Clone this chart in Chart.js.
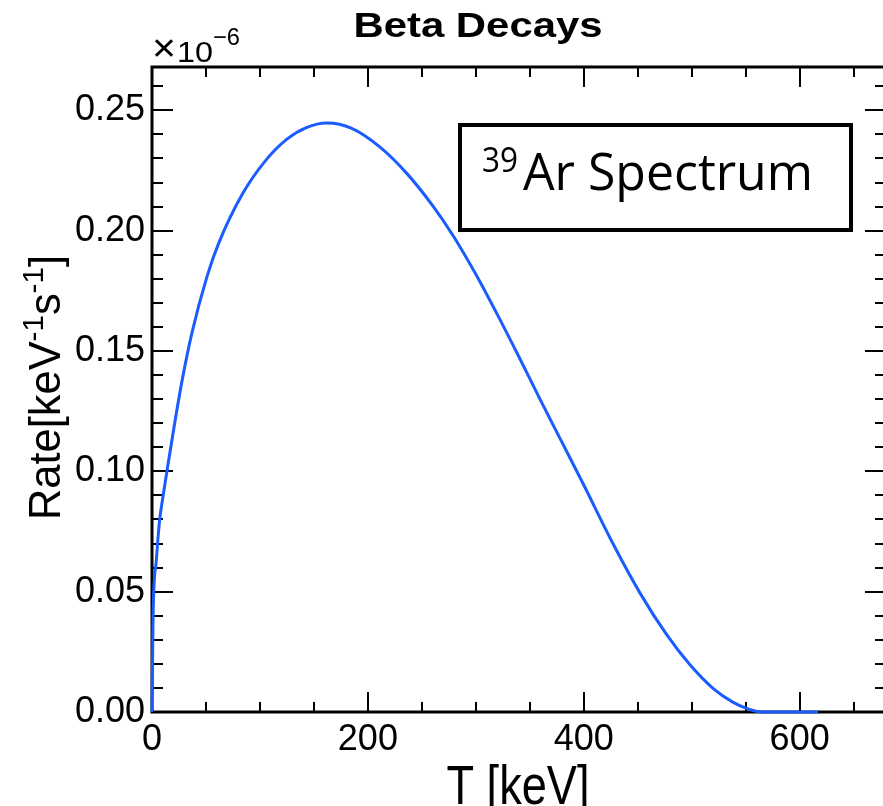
<!DOCTYPE html>
<html>
<head>
<meta charset="utf-8">
<script src="https://cdn.jsdelivr.net/npm/chart.js@4.4.1/dist/chart.umd.min.js"></script>
<style>
  html, body { margin: 0; padding: 0; background: #fff; overflow: hidden; }
  canvas { display: block; }
</style>
</head>
<body>
<canvas id="betaChart" width="900" height="806"></canvas>
<script>
// 39Ar beta spectrum (rate in units of 1e-6 keV^-1 s^-1)
const energyKeV = [0, 1, 4, 7, 10, 14, 21, 28, 37, 51, 62, 84, 105, 125, 143, 162, 185, 211, 236, 260, 279, 300, 320, 340, 360, 380, 400, 427, 452, 477, 498, 520, 538, 552, 565, 617]
const rate      = [0, 0.040, 0.063, 0.0795, 0.089, 0.1005, 0.1200, 0.1380, 0.1575, 0.181, 0.195, 0.2154, 0.229, 0.238, 0.2428, 0.2447, 0.2425, 0.2348, 0.2238, 0.2104, 0.1979, 0.1819, 0.1651, 0.1475, 0.1295, 0.1119, 0.0943, 0.0700, 0.0495, 0.0320, 0.0198, 0.0097, 0.0041, 0.0013, 0, 0]

const xMajorTicks = [0, 200, 400, 600]
const yMajorTicks = [0, 0.05, 0.10, 0.15, 0.20, 0.25]

const X_MAX = 680
const Y_MAX = 0.268

// draws text squeezed/stretched to a given width
function fitText(ctx, text, x, y, width, font, align) {
    ctx.save()
    ctx.font = font
    const w = ctx.measureText(text).width
    const sx = width / w
    ctx.translate(x, y)
    ctx.scale(sx, 1)
    ctx.textAlign = 'left'
    ctx.textBaseline = 'alphabetic'
    if (align === 'center') ctx.fillText(text, -w / 2, 0)
    else ctx.fillText(text, 0, 0)
    ctx.restore()
}

const rootFrame = {
    id: 'rootFrame',
    beforeDatasetsDraw(chart) {
        const ctx = chart.ctx
        const a = chart.chartArea
        const xs = chart.scales.x
        const ys = chart.scales.y
        ctx.save()
        ctx.strokeStyle = '#000'
        ctx.lineWidth = 2
        ctx.beginPath()
        for (let v = 0; v <= X_MAX; v += 50) {
            const px = Math.round(xs.getPixelForValue(v))
            const len = v % 200 === 0 ? 20 : 10
            ctx.moveTo(px, a.bottom); ctx.lineTo(px, a.bottom - len)
            ctx.moveTo(px, a.top); ctx.lineTo(px, a.top + len)
        }
        for (let i = 0; i * 0.01 <= Y_MAX; i++) {
            const py = Math.round(ys.getPixelForValue(i * 0.01))
            const len = i % 5 === 0 ? 21 : 11
            ctx.moveTo(a.left, py); ctx.lineTo(a.left + len, py)
            ctx.moveTo(a.right, py); ctx.lineTo(a.right - len, py)
        }
        ctx.stroke()
        ctx.lineWidth = 3
        ctx.strokeRect(a.left, a.top, a.right - a.left, a.bottom - a.top)
        ctx.restore()
    },
    afterDraw(chart) {
        const ctx = chart.ctx
        ctx.save()
        ctx.fillStyle = '#000'

        // title
        fitText(ctx, 'Beta Decays', 478, 37, 249, 'bold 35px "Liberation Sans"', 'center')

        // exponent
        fitText(ctx, '\u00d7', 152, 61, 24, '38px "Liberation Sans"')
        fitText(ctx, '10', 177, 62, 36, '29px "Liberation Sans"')
        fitText(ctx, '\u22126', 213, 45, 27, '24px "Liberation Sans"')

        // x title
        fitText(ctx, 'T [keV]', 518, 804, 143, '56px "Liberation Sans"', 'center')

        // y title, rotated
        ctx.save()
        ctx.translate(60, 520)
        ctx.rotate(-Math.PI / 2)
        const parts = [
            ['Rate[keV', '44px "Liberation Sans"', 0],
            ['-1', '30px "Liberation Sans"', -17],
            ['s', '44px "Liberation Sans"', 0],
            ['-1', '30px "Liberation Sans"', -17],
            [']', '44px "Liberation Sans"', 0]
        ]
        let total = 0
        parts.forEach(p => { ctx.font = p[1]; total += ctx.measureText(p[0]).width })
        const sx = 265 / total
        ctx.scale(sx, 1)
        let cx = 0
        parts.forEach(p => {
            ctx.font = p[1]
            ctx.fillText(p[0], cx, p[2])
            cx += ctx.measureText(p[0]).width
        })
        ctx.restore()

        // label box
        ctx.fillStyle = '#fff'
        ctx.fillRect(458, 123, 395, 109)
        ctx.strokeStyle = '#000'
        ctx.lineWidth = 4
        ctx.strokeRect(460, 125, 391, 105)
        ctx.fillStyle = '#000'
        fitText(ctx, '39', 482, 172, 36, '34px "Open Sans"')
        fitText(ctx, 'Ar Spectrum', 523, 190, 290, '52px "Open Sans"')
        ctx.restore()
    }
}

const points = energyKeV.map((e, i) => ({ x: e, y: rate[i] }))

new Chart(document.getElementById('betaChart'), {
    type: 'line',
    data: {
        datasets: [{
            label: '39Ar Spectrum',
            data: points,
            borderColor: '#1a5cff',
            borderWidth: 3,
            pointRadius: 0,
            fill: false,
            cubicInterpolationMode: 'monotone',
            clip: false
        }]
    },
    options: {
        responsive: false,
        animation: false,
        layout: { padding: { left: 0, top: 67, right: 14, bottom: 0 } },
        plugins: {
            legend: { display: false },
            title: { display: false },
            tooltip: { enabled: false }
        },
        scales: {
            x: {
                type: 'linear',
                min: 0,
                max: X_MAX,
                grid: { display: false, drawTicks: false },
                border: { display: false },
                afterBuildTicks: s => { s.ticks = xMajorTicks.map(v => ({ value: v })) },
                afterFit: s => { s.height = 94 },
                ticks: {
                    color: '#000',
                    padding: 6,
                    maxRotation: 0,
                    font: { family: 'Liberation Sans', size: 36 },
                    callback: v => String(v)
                }
            },
            y: {
                type: 'linear',
                min: 0,
                max: Y_MAX,
                grid: { display: false, drawTicks: false },
                border: { display: false },
                afterBuildTicks: s => { s.ticks = yMajorTicks.map(v => ({ value: v })) },
                afterFit: s => { s.width = 152 },
                ticks: {
                    color: '#000',
                    padding: 7,
                    font: { family: 'Liberation Sans', size: 36 },
                    callback: v => v.toFixed(2)
                }
            }
        }
    },
    plugins: [rootFrame]
})
</script>
</body>
</html>
